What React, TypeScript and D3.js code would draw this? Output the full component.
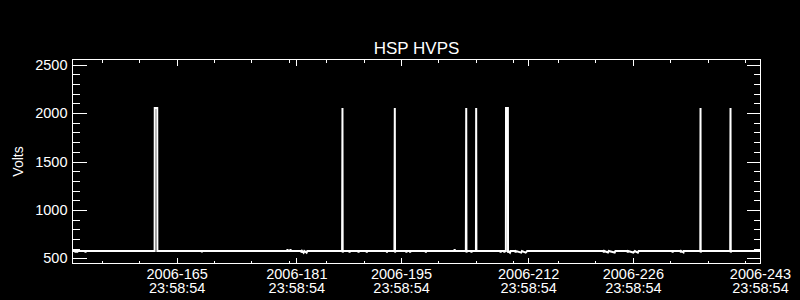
import React from "react";
import * as d3 from "d3";

// ---- data (day-of-year 2006, tick unit = day D at 23:58:54) ----
const pointDays: number[] = [
  151.0, 151.35, 151.4, 151.45, 151.6, 151.63, 151.67, 152.7, 152.74, 152.78,
  161.98, 162.0, 162.33, 162.35, 168.28, 168.3, 168.33,
  179.7, 179.75, 179.8, 180.1, 180.15, 180.2, 181.6, 181.62, 181.7, 181.9, 182.0, 182.3, 182.4,
  187.05, 187.1, 187.13, 187.18, 188.0, 188.05, 188.1, 189.2, 189.25, 189.3, 190.3, 190.35, 190.4,
  193.0, 193.05, 193.1, 194.05, 194.1, 194.13, 194.18, 195.6, 195.65, 195.7, 196.1, 196.15, 196.2,
  198.2, 198.25, 198.3, 202.05, 202.1, 202.15,
  203.6, 203.65, 203.68, 203.72, 204.3, 204.35, 204.4, 204.95, 204.98, 205.01,
  208.2, 208.25, 208.3, 208.7, 208.75, 208.8, 208.95, 208.97, 209.22, 209.24, 209.3, 209.5, 209.6,
  210.2, 210.25, 210.3, 211.0, 211.1, 211.6, 211.8,
  222.0, 222.05, 222.1, 222.6, 222.7, 223.5, 223.6,
  225.2, 225.25, 225.3, 226.0, 226.2, 226.6, 226.7,
  231.2, 231.25, 231.3, 232.3, 232.35, 232.4, 232.7, 232.75,
  234.95, 234.98, 235.0, 235.05, 238.95, 238.99, 239.02, 239.06, 243.0,
];
const pointVolts: number[] = [
  577, 577, 560, 577, 577, 562, 577, 577, 560, 577,
  577, 2052, 2052, 577, 577, 562, 577,
  577, 594, 577, 577, 594, 577, 577, 560, 577, 560, 577, 560, 577,
  577, 2052, 562, 577, 577, 561, 577, 577, 562, 577, 577, 561, 577,
  577, 561, 577, 577, 2052, 561, 577, 577, 562, 577, 577, 562, 577,
  577, 562, 577, 577, 595, 577,
  577, 2052, 562, 577, 577, 561, 577, 577, 2052, 577,
  577, 560, 577, 577, 560, 577, 577, 2052, 2052, 560, 577, 560, 577,
  577, 560, 577, 560, 577, 560, 577,
  577, 561, 577, 561, 577, 561, 577,
  577, 561, 577, 561, 577, 561, 577,
  577, 562, 577, 577, 562, 577, 562, 577,
  577, 2052, 562, 577, 577, 2052, 562, 577, 577,
];

const majorDays: number[] = [165, 181, 195, 212, 226, 243];
const majorDateLabels: string[] = ["2006-165", "2006-181", "2006-195", "2006-212", "2006-226", "2006-243"];
const timeLabel = "23:58:54";
const minorDays: number[] = [155, 160, 170, 175, 180, 185, 190, 200, 205, 210, 216, 221, 231, 236, 241];
const yMajor: number[] = [500, 1000, 1500, 2000, 2500];
const yMinor: number[] = d3.range(600, 2500, 100).filter((v) => v % 500 !== 0);

const title = "HSP HVPS";
const yTitle = "Volts";

export default function App() {
  const W = 800, H = 300;
  const x0 = 72.5, x1 = 760.5, yT = 59.5, yB = 263.5;
  const x = d3.scaleLinear().domain([151, 243]).range([x0, x1]);
  const y = d3.scaleLinear().domain([448, 2552]).range([yB, yT]);
  const pts: [number, number][] = pointDays.map((d, i) => [d, pointVolts[i]]);
  const line = d3.line<[number, number]>().x((d) => x(d[0])).y((d) => y(d[1]));
  const font = "'Liberation Sans', Arial, sans-serif";
  const yPix = (v: number) => Math.round(y(v)) + 0.5;
  const xPix = (v: number) => Math.round(x(v) - 0.5) + 0.5;

  return (
    <svg width={W} height={H} style={{ position: "absolute", left: 0, top: 0, display: "block" }}>
      <rect x={0} y={0} width={W} height={H} fill="#000" />
      <g stroke="#fff" strokeWidth={1} fill="none" shapeRendering="crispEdges">
        <rect x={x0} y={yT} width={x1 - x0} height={yB - yT} />
        {yMajor.map((v) => (
          <g key={"ym" + v}>
            <line x1={x0} x2={x0 + 14} y1={yPix(v)} y2={yPix(v)} />
            <line x1={x1} x2={x1 - 14} y1={yPix(v)} y2={yPix(v)} />
          </g>
        ))}
        {yMinor.map((v) => (
          <g key={"yn" + v}>
            <line x1={x0} x2={x0 + 7} y1={yPix(v)} y2={yPix(v)} />
            <line x1={x1} x2={x1 - 7} y1={yPix(v)} y2={yPix(v)} />
          </g>
        ))}
        {majorDays.map((d) => (
          <g key={"xm" + d}>
            <line x1={xPix(d)} x2={xPix(d)} y1={yB} y2={yB - 6} />
            <line x1={xPix(d)} x2={xPix(d)} y1={yT} y2={yT + 6} />
          </g>
        ))}
        {minorDays.map((d) => (
          <g key={"xn" + d}>
            <line x1={xPix(d)} x2={xPix(d)} y1={yB} y2={yB - 3} />
            <line x1={xPix(d)} x2={xPix(d)} y1={yT} y2={yT + 3} />
          </g>
        ))}
      </g>
      <path d={line(pts) || ""} stroke="#fff" strokeWidth={2} fill="none" strokeLinejoin="miter" />
      <g fill="#fff" fontFamily={font} fontSize={14.5}>
        {yMajor.map((v) => (
          <text key={"yl" + v} x={67.5} y={y(v) + 5} textAnchor="end">{v}</text>
        ))}
        {majorDays.map((d, i) => (
          <g key={"xl" + d}>
            <text x={x(d)} y={278.5} textAnchor="middle">{majorDateLabels[i]}</text>
            <text x={x(d)} y={293} textAnchor="middle">{timeLabel}</text>
          </g>
        ))}
        <text x={(x0 + x1) / 2} y={53.5} textAnchor="middle" fontSize={17}>{title}</text>
        <text transform={`translate(22.5, ${(yT + yB) / 2}) rotate(-90)`} textAnchor="middle" fontSize={14}>{yTitle}</text>
      </g>
    </svg>
  );
}
